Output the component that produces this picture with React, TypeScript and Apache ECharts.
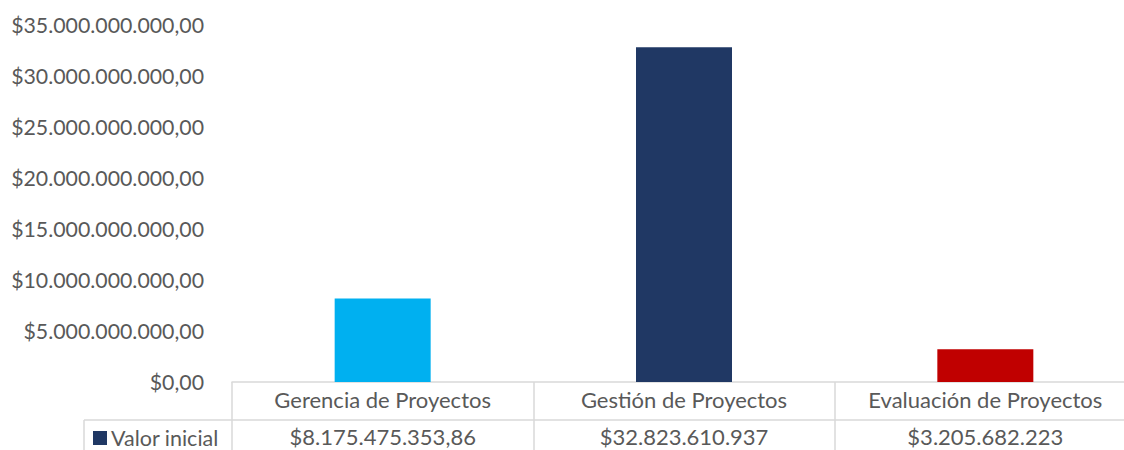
import React, { useEffect, useRef } from "react";
import * as echarts from "echarts";

const categories = ["Gerencia de Proyectos", "Gestión de Proyectos", "Evaluación de Proyectos"];
const values = [8175475353.86, 32823610937, 3205682223];
const valueLabels = ["$8.175.475.353,86", "$32.823.610.937", "$3.205.682.223"];
const barColors = ["#00B0F0", "#203864", "#C00000"];
const seriesName = "Valor inicial";
const yMax = 35000000000;
const yInterval = 5000000000;

const TEXT = "#595959";
const LINE = "#D9D9D9";
const FONT = "Lato";
const FS = 22;

function fmtMoney(v: number): string {
  const s = Math.round(v).toString();
  const withDots = s.replace(/\B(?=(\d{3})+(?!\d))/g, ".");
  return "$" + withDots + ",00";
}

export default function App() {
  const ref = useRef<HTMLDivElement>(null);
  useEffect(() => {
    if (!ref.current) return;
    const chart = echarts.init(ref.current, undefined, { renderer: "svg" });
    const gridLeft = 232;
    const gridTop = 25;
    const gridWidth = 904;
    const gridHeight = 357;
    const axisY = gridTop + gridHeight;
    const rowY = axisY + 38;
    const legendLeft = 84;
    chart.setOption({
      animation: false,
      textStyle: { fontFamily: FONT },
      grid: {
        left: gridLeft,
        top: gridTop,
        width: gridWidth,
        height: gridHeight,
        containLabel: false,
        outerBoundsMode: "none",
      },
      legend: {
        show: true,
        left: 93,
        top: 427,
        padding: 0,
        icon: "rect",
        itemWidth: 14,
        itemHeight: 14,
        itemGap: 5,
        textStyle: { color: TEXT, fontSize: 21.5, lineHeight: 16, fontFamily: FONT, padding: [0, 0, 0, -1] },
        data: [seriesName],
      },
      xAxis: [
        {
          type: "category",
          data: categories,
          position: "bottom",
          axisLine: { show: true, lineStyle: { color: LINE, width: 1.5 } },
          axisTick: { show: true, length: 70, interval: 0, lineStyle: { color: LINE, width: 1.5 } },
          axisLabel: { color: TEXT, fontSize: FS, fontFamily: FONT, margin: 6, interval: 0 },
        },
        {
          type: "category",
          data: valueLabels,
          position: "bottom",
          axisLine: { show: false },
          axisTick: { show: false },
          axisLabel: { color: TEXT, fontSize: FS, fontFamily: FONT, margin: 43, interval: 0 },
        },
      ],
      yAxis: {
        type: "value",
        min: 0,
        max: yMax,
        interval: yInterval,
        axisLine: { show: false },
        axisTick: { show: false },
        splitLine: { show: false },
        axisLabel: {
          color: TEXT,
          fontSize: 21.3,
          fontFamily: FONT,
          margin: 28,
          formatter: (v: number) => (v === 0 ? "$0,00" : fmtMoney(v)),
        },
      },
      graphic: [
        {
          type: "line",
          shape: { x1: legendLeft, y1: rowY, x2: gridLeft + gridWidth, y2: rowY },
          style: { stroke: LINE, lineWidth: 1.5 },
          silent: true,
        },
        {
          type: "line",
          shape: { x1: legendLeft, y1: rowY, x2: legendLeft, y2: 460 },
          style: { stroke: LINE, lineWidth: 1.5 },
          silent: true,
        },
      ],
      series: [
        {
          name: seriesName,
          type: "bar",
          xAxisIndex: 0,
          barWidth: 96,
          itemStyle: { color: "#203864" },
          data: values.map((v, i) => ({ value: v, itemStyle: { color: barColors[i] } })),
        },
      ],
    });
    return () => chart.dispose();
  }, []);
  return (
    <div
      ref={ref}
      style={{ position: "absolute", left: 0, top: 0, width: 1124, height: 450, overflow: "hidden" }}
    />
  );
}
